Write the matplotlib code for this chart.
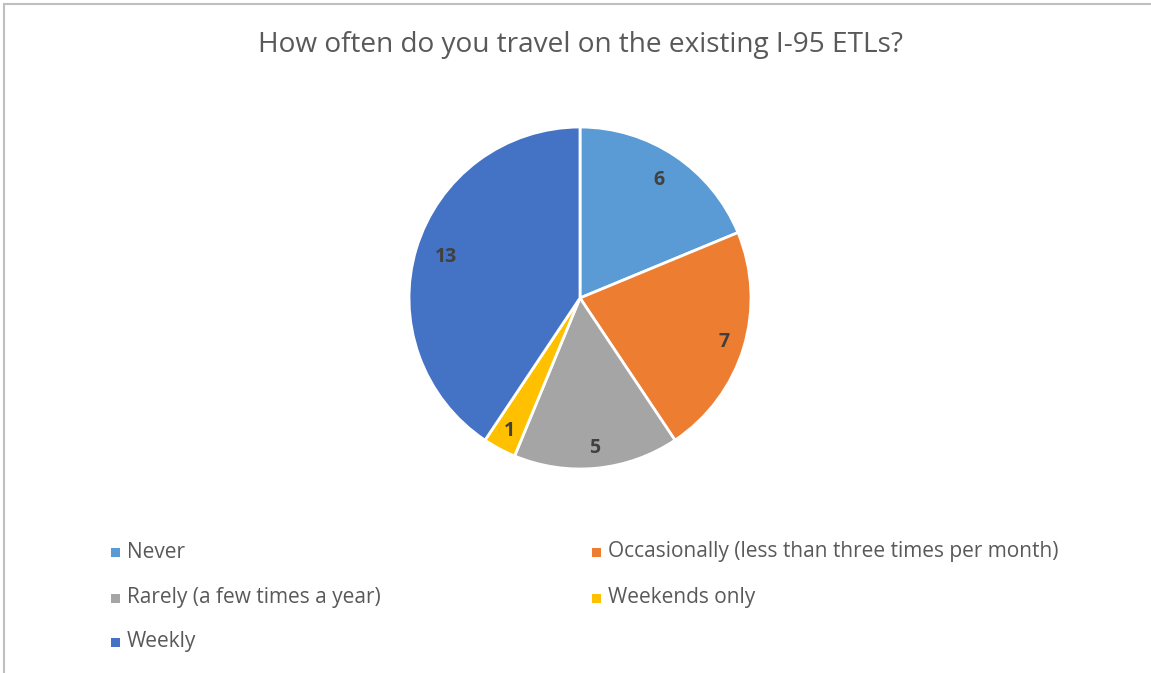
import numpy as np
import matplotlib.pyplot as plt
from matplotlib.patches import Rectangle

# data
kategorije = ["Never",
              "Occasionally (less than three times per month)",
              "Rarely (a few times a year)",
              "Weekends only",
              "Weekly"]
vrijednosti = [6, 7, 5, 1, 13]
boje = ["#5B9BD5", "#ED7D31", "#A5A5A5", "#FFC000", "#4472C4"]
naslov = "How often do you travel on the existing I-95 ETLs?"

plt.rcParams['font.family'] = ['Open Sans', 'DejaVu Sans']

W, H = 1151, 673
fig = plt.figure(figsize=(W / 100, H / 100), dpi=100)

# thin grey frame like the Excel chart area
fig.patches.append(Rectangle((4 / W, -0.1), 1.2, (H - 4) / H + 0.1,
                             transform=fig.transFigure, fill=False,
                             edgecolor="#BFBFBF", linewidth=1.5))

fig.text(580 / W, 1 - 45 / H, naslov, ha="center", va="center",
         fontsize=20.2, color="#595959")

# pie axes: centre (580, 298), radius 171 px
cx, cy, r = 580, 298, 171
ax = fig.add_axes([(cx - r) / W, (H - cy - r) / H, 2 * r / W, 2 * r / H])
wedges, _ = ax.pie(vrijednosti, colors=boje, startangle=90,
                   counterclock=False,
                   wedgeprops=dict(edgecolor="white", linewidth=2))

# data labels roughly where Excel puts them (inside, near the edge)
udaljenosti = [0.83, 0.88, 0.88, 0.88, 0.82]
for klin, v, d in zip(wedges, vrijednosti, udaljenosti):
    kut = np.deg2rad((klin.theta1 + klin.theta2) / 2)
    ax.text(d * np.cos(kut), d * np.sin(kut), str(v), ha="center",
            va="center", fontsize=14, fontweight="bold", color="#404040")

ax.set_xlim(-1, 1)
ax.set_ylim(-1, 1)
ax.axis("off")

# legend, two columns
pozicije = [(115, 552), (596, 552), (115, 598), (596, 598), (115, 642)]
for (x, y), kat, boja in zip(pozicije, kategorije, boje):
    fig.patches.append(Rectangle(((x - 4.5) / W, 1 - (y + 4.5) / H), 9 / W, 9 / H,
                                 transform=fig.transFigure,
                                 facecolor=boja, edgecolor="none"))
    fig.text((x + 12) / W, 1 - y / H, kat, ha="left", va="center",
             fontsize=15, color="#595959")

fig.savefig("out.png", dpi=100)
